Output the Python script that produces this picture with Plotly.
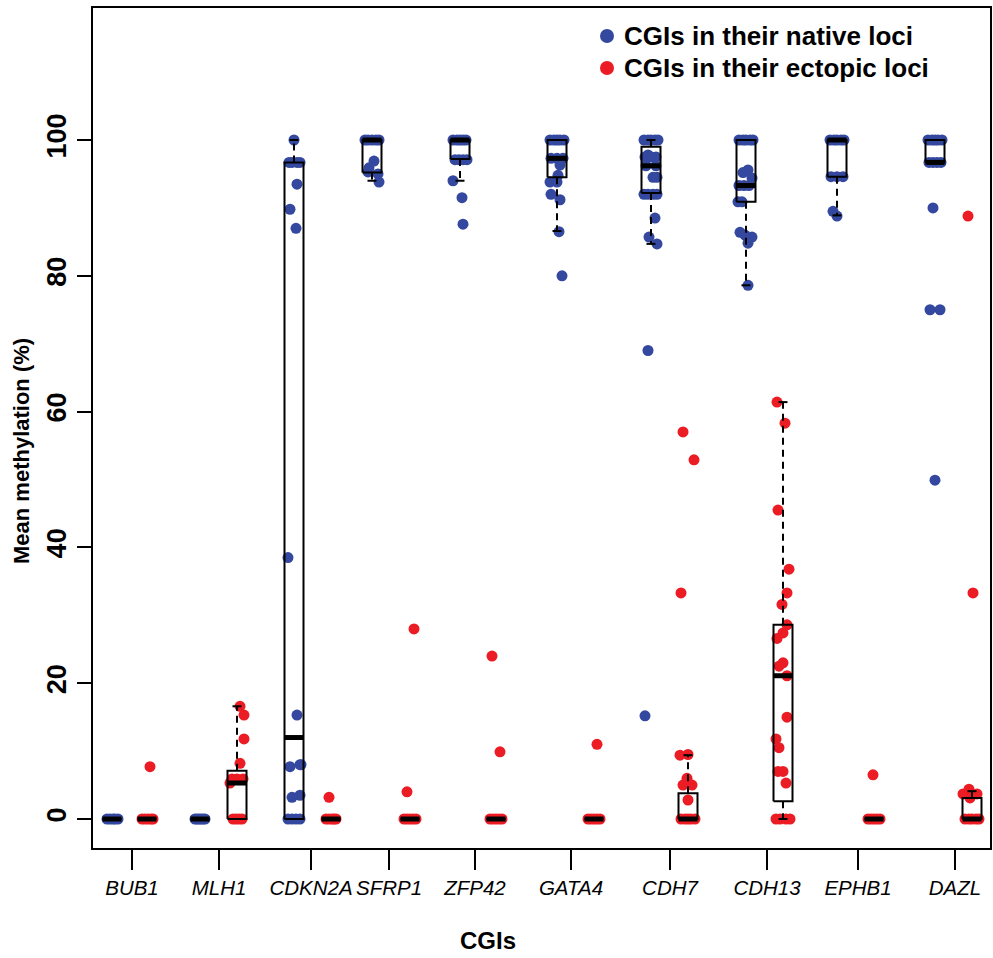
import plotly.graph_objects as go

genes = ["BUB1", "MLH1", "CDKN2A", "SFRP1", "ZFP42", "GATA4", "CDH7", "CDH13", "EPHB1", "DAZL"]

# Mean methylation (%), one list per CGI
native_values = [
    [0, 0, 0, 0, 0],
    [0, 0, 0, 0, 0, 0],
    [100, 96.7, 96.7, 96.7, 96.7, 93.5, 89.8, 87.0, 38.5, 15.3, 8.0, 8.0, 7.7, 3.5, 3.2, 0, 0, 0, 0],
    [100, 100, 100, 100, 100, 96.9, 95.9, 95.3, 95.0, 93.8],
    [100, 100, 100, 100, 100, 97.1, 97.1, 97.1, 97.1, 94.0, 91.5, 87.6],
    [100, 100, 100, 100, 100, 97.3, 97.3, 97.3, 96.3, 94.8, 93.8, 93.8, 92.0, 91.2, 86.5, 80.0],
    [100, 100, 100, 100, 100, 97.8, 97.5, 97.5, 97.5, 96.2, 96.2, 94.5, 94.5, 92, 92, 92, 92, 88.5, 85.7, 84.7, 69.0, 15.2],
    [100, 100, 100, 100, 100, 95.6, 95.2, 94.4, 93.3, 93.3, 93.3, 90.9, 90.9, 86.4, 86.0, 85.7, 84.8, 78.6],
    [100, 100, 100, 100, 100, 94.6, 94.6, 94.6, 89.5, 88.8],
    [100, 100, 100, 100, 100, 96.7, 96.7, 96.7, 96.7, 90.0, 75.0, 75.0, 49.9],
]
ectopic_values = [
    [0, 0, 0, 0, 0, 7.7],
    [16.6, 15.3, 11.8, 8.2, 5.9, 5.9, 5.9, 5.3, 0, 0, 0, 0],
    [0, 0, 0, 0, 0, 3.2],
    [0, 0, 0, 0, 0, 4.0, 28.0],
    [0, 0, 0, 0, 0, 9.9, 24.0],
    [0, 0, 0, 0, 0, 11.0],
    [0, 0, 0, 0, 0, 2.8, 5.0, 5.0, 6.0, 9.5, 9.4, 33.3, 52.9, 57.0],
    [61.4, 58.3, 45.5, 36.8, 33.3, 31.6, 28.6, 27.4, 26.6, 23.0, 22.5, 21.1, 15.0, 11.8, 10.5, 7.0, 7.0, 5.3, 0, 0, 0, 0],
    [0, 0, 0, 0, 0, 6.5],
    [88.8, 33.3, 4.4, 3.7, 3.7, 3.1, 0, 0, 0, 0, 0],
]

# Box statistics: (lower whisker, Q1, median, Q3, upper whisker)
native_stats = [
    (0, 0, 0, 0, 0),
    (0, 0, 0, 0, 0),
    (0, 0, 12.0, 96.7, 100),
    (94.0, 95.2, 100, 100, 100),
    (94.0, 97.2, 100, 100, 100),
    (86.6, 94.5, 97.3, 100, 100),
    (84.7, 92.2, 96.2, 99.0, 100),
    (78.6, 90.9, 93.3, 100, 100),
    (88.9, 94.6, 100, 100, 100),
    (96.7, 96.7, 96.7, 100, 100),
]
ectopic_stats = [
    (0, 0, 0, 0, 0),
    (0, 0, 5.3, 7.1, 16.6),
    (0, 0, 0, 0, 0),
    (0, 0, 0, 0, 0),
    (0, 0, 0, 0, 0),
    (0, 0, 0, 0, 0),
    (0, 0, 0, 3.8, 9.4),
    (0, 2.6, 21.1, 28.6, 61.4),
    (0, 0, 0, 0, 0),
    (0, 0, 0, 3.1, 4.1),
]

# ---- layout (positions, not data) ----
native_pos = [19, 107, 201, 279, 367, 464, 558, 653, 744, 842]
ectopic_pos = [54, 144, 238, 317, 403, 501, 595, 690, 781, 879]
tick_pos = [39, 126, 218, 296, 382, 478, 577, 674, 765, 862]

native_jitter = [
    [-5, -2, 1, 3, 6],
    [-5, -3, -1, 1, 3, 5],
    [0, -5, -2, 3, 6, 3, -4, 2, -6, 3, 7, 6, -4, 6, -2, -6, -2, 2, 6],
    [-7, -4, 0, 4, 7, 2, -3, -4, 6, 7],
    [-7, -3, 0, 3, 6, -5, -1, 3, 7, -7, 2, 3],
    [-7, -3, 0, 3, 7, -6, 0, 6, 3, 1, -7, 0, -6, 3, 2, 5],
    [-7, -3, 0, 4, 7, -3, -6, 0, 5, -5, 5, 2, 6, -7, -3, 2, 6, 4, -2, 6, -3, -6],
    [-7, -3, 0, 4, 7, 2, -3, 6, -7, -2, 3, -8, -4, -6, -1, 6, 2, 2],
    [-7, -3, 0, 4, 7, -6, 0, 6, -4, 0],
    [-7, -3, 0, 3, 7, -6, -2, 2, 6, -2, -5, 5, 0],
]
ectopic_jitter = [
    [-5, -2, 1, 4, 6, 3],
    [3, 7, 7, 3, -5, 0, 6, -7, -4, -1, 2, 5],
    [-5, -2, 1, 3, 5, -2],
    [-6, -3, 0, 3, 6, -3, 4],
    [-6, -3, 0, 3, 6, 4, -4],
    [-6, -3, 0, 3, 6, 3],
    [-7, -3, 0, 3, 7, 0, -5, 4, -1, 0, -8, -7, 6, -5],
    [-6, 2, -5, 6, 4, -1, 4, 0, -6, 0, -4, 4, 4, -7, -4, -5, 0, 3, -7, -3, 3, 7],
    [-6, -3, 0, 3, 6, -1],
    [-4, 1, -3, -9, 5, -2, -7, -3, 0, 4, 7],
]

BLUE = "#33489E"
RED = "#EC1C24"
FONT = "Liberation Sans, Arial, Helvetica, sans-serif"
BOX_W = 19
CAP_W = 9

fig = go.Figure()


def add_points(values, jitter, pos, color):
    xs, ys = [], []
    for vals, jit, c in zip(values, jitter, pos):
        for v, j in zip(vals, jit):
            xs.append(c + j)
            ys.append(v)
    fig.add_trace(go.Scatter(x=xs, y=ys, mode="markers", showlegend=False,
                             hoverinfo="y",
                             marker=dict(size=11, color=color, line=dict(width=0))))


add_points(native_values, native_jitter, native_pos, BLUE)
add_points(ectopic_values, ectopic_jitter, ectopic_pos, RED)

all_pos = native_pos + ectopic_pos
all_stats = native_stats + ectopic_stats

rx, ry, mx, my, wx, wy, cx, cy = [], [], [], [], [], [], [], []
for c, (wlo, q1, med, q3, whi) in zip(all_pos, all_stats):
    l, r = c - BOX_W / 2, c + BOX_W / 2
    rx += [l, r, r, l, l, None]
    ry += [q1, q1, q3, q3, q1, None]
    mx += [l, r, None]
    my += [med, med, None]
    wx += [c, c, None, c, c, None]
    wy += [q3, whi, None, q1, wlo, None]
    cx += [c - CAP_W / 2, c + CAP_W / 2, None, c - CAP_W / 2, c + CAP_W / 2, None]
    cy += [whi, whi, None, wlo, wlo, None]

fig.add_trace(go.Scatter(x=wx, y=wy, mode="lines", showlegend=False, hoverinfo="skip",
                         line=dict(color="black", width=2, dash="7px,5px")))
fig.add_trace(go.Scatter(x=cx, y=cy, mode="lines", showlegend=False, hoverinfo="skip",
                         line=dict(color="black", width=2)))
fig.add_trace(go.Scatter(x=rx, y=ry, mode="lines", showlegend=False, hoverinfo="skip",
                         line=dict(color="black", width=2)))
fig.add_trace(go.Scatter(x=mx, y=my, mode="lines", showlegend=False, hoverinfo="skip",
                         line=dict(color="black", width=5)))

W, H = 993, 958
L, R, T, B = 93, 3, 8, 110
PW, PH = W - L - R, H - T - B


def px(xp):
    return (xp - L) / PW


def py(yp):
    return (T + PH - yp) / PH


shapes = []
annotations = []
legend_items = [("CGIs in their native loci", BLUE, 36), ("CGIs in their ectopic loci", RED, 68)]
for text, col, yc in legend_items:
    shapes.append(dict(type="circle", xref="paper", yref="paper",
                       x0=px(607 - 7), x1=px(607 + 7), y0=py(yc + 7), y1=py(yc - 7),
                       fillcolor=col, line=dict(width=0)))
    annotations.append(dict(text=text, xref="paper", yref="paper", x=px(622), y=py(yc),
                            xanchor="left", yanchor="middle", showarrow=False,
                            font=dict(family=FONT, size=26, color="black", weight="bold")))

annotations.append(dict(text="Mean methylation (%)", xref="paper", yref="paper",
                        x=px(21), y=py(451), textangle=-90, showarrow=False,
                        xanchor="center", yanchor="middle",
                        font=dict(family=FONT, size=22, color="black", weight="bold")))
annotations.append(dict(text="CGIs", xref="paper", yref="paper",
                        x=px(488), y=py(940), showarrow=False,
                        xanchor="center", yanchor="middle",
                        font=dict(family=FONT, size=24, color="black", weight="bold")))

fig.update_layout(
    width=W, height=H,
    margin=dict(l=L, r=R, t=T, b=B, autoexpand=False),
    paper_bgcolor="white", plot_bgcolor="white",
    shapes=shapes, annotations=annotations,
    xaxis=dict(range=[0, PW], tickvals=tick_pos, ticktext=genes, tickangle=0,
               automargin=False,
               showgrid=False, zeroline=False, showline=True, mirror=True,
               linecolor="black", linewidth=2, ticks="outside", ticklen=20,
               tickwidth=1.5, tickcolor="black",
               tickfont=dict(family=FONT, size=20.5, color="black", style="italic")),
    yaxis=dict(range=[-4.27, 119.44], tickvals=[0, 20, 40, 60, 80, 100],
               automargin=False,
               showgrid=False, zeroline=False, showline=True, mirror=True,
               linecolor="black", linewidth=2, ticks="outside", ticklen=14,
               tickwidth=1.5, tickcolor="black", tickangle=-90,
               tickfont=dict(family=FONT, size=27, color="black", weight="bold")),
)

fig.write_html("out.html", config={"displayModeBar": False},
               post_script="document.body.style.margin='0';document.body.style.overflow='hidden';")
